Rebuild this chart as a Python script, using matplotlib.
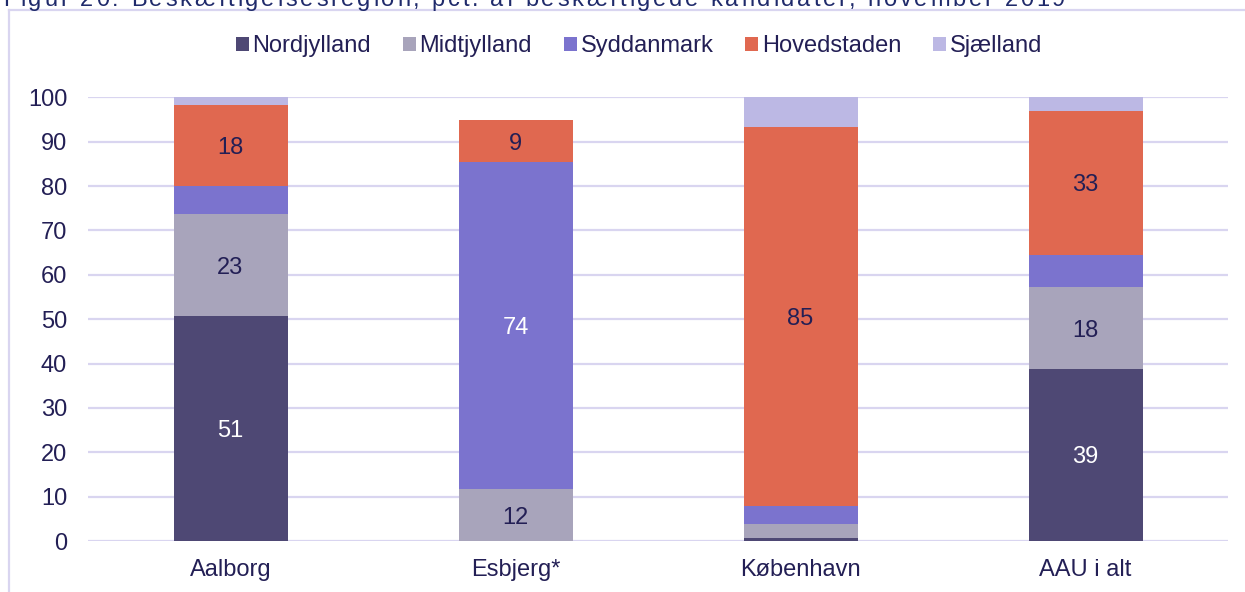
import numpy as np
import matplotlib.pyplot as plt
from matplotlib.lines import Line2D

plt.rcParams['font.family'] = ['Liberation Sans', 'DejaVu Sans']

# ===================== DATA =====================
categories = ['Aalborg', 'Esbjerg*', 'København', 'AAU i alt']
regions = ['Nordjylland', 'Midtjylland', 'Syddanmark', 'Hovedstaden', 'Sjælland']
nordjylland = [50.6, 0.0, 0.7, 38.8]
midtjylland = [23.0, 11.7, 3.1, 18.4]
syddanmark = [6.4, 73.7, 4.2, 7.2]
hovedstaden = [18.3, 9.4, 85.3, 32.6]
sjaelland = [1.7, 0.0, 6.7, 3.0]
series = [nordjylland, midtjylland, syddanmark, hovedstaden, sjaelland]

title = 'Figur 20: Beskæftigelsesregion, pct. af beskæftigede kandidater, november 2019'

colors = ['#4E4874', '#A8A4BB', '#7B73CE', '#E06850', '#BCB8E4']
label_colors = ['white', '#231F55', 'white', '#231F55', '#231F55']
text_col = '#231F55'
grid_col = '#D9D5F0'

# ===================== FIGURE =====================
fig = plt.figure(figsize=(12.45, 5.92), dpi=100)
ax = fig.add_axes([88 / 1245, 1 - 541 / 592, 1140 / 1245, 443.7 / 592])

x = np.arange(len(categories))
bottom = np.zeros(len(categories))
for name, vals, col, lcol in zip(regions, series, colors, label_colors):
    vals = np.array(vals)
    ax.bar(x, vals, width=0.4, bottom=bottom, color=col, label=name, zorder=2)
    for xi, b, v in zip(x, bottom, vals):
        if v >= 8:
            ax.text(xi, b + v / 2, f'{v:.0f}', ha='center', va='center_baseline',
                    fontsize=17, color=lcol, zorder=3)
    bottom += vals

ax.set_xlim(-0.5, 3.5)
ax.set_ylim(0, 100)
ax.set_yticks(range(0, 101, 10))
ax.set_xticks(x)
ax.set_xticklabels(categories)
ax.tick_params(axis='both', length=0, labelsize=17, labelcolor=text_col)
ax.tick_params(axis='y', pad=15)
ax.tick_params(axis='x', pad=13)
ax.grid(axis='y', color=grid_col, linewidth=1.6, zorder=0)
ax.set_axisbelow(True)
for s in ax.spines.values():
    s.set_visible(False)

fig.legend(loc='center', bbox_to_anchor=(639 / 1245, 1 - 46 / 592), ncol=5,
           frameon=False, fontsize=17, handlelength=0.55, handleheight=0.55,
           handletextpad=0.15, columnspacing=1.35, labelcolor=text_col)

# frame around the chart
fig.add_artist(Line2D([9 / 1245, 9 / 1245], [0, 1 - 10 / 592], color=grid_col,
                      lw=1.6, transform=fig.transFigure))
fig.add_artist(Line2D([9 / 1245, 1], [1 - 10 / 592, 1 - 10 / 592], color=grid_col,
                      lw=1.6, transform=fig.transFigure))

# title, letter-spaced, cut off at the top edge
renderer = fig.canvas.get_renderer()
xpos = 3
for ch in title:
    t = fig.text(xpos / 1245, 1 - 6 / 592, ch, fontsize=17, color='#1F2A6B',
                 va='baseline', ha='left')
    if ch == ' ':
        w = t.get_fontsize() * 0.278 * 100 / 72
    else:
        w = t.get_window_extent(renderer).width
    xpos += w + 2.8

fig.savefig('out.png', dpi=100)
